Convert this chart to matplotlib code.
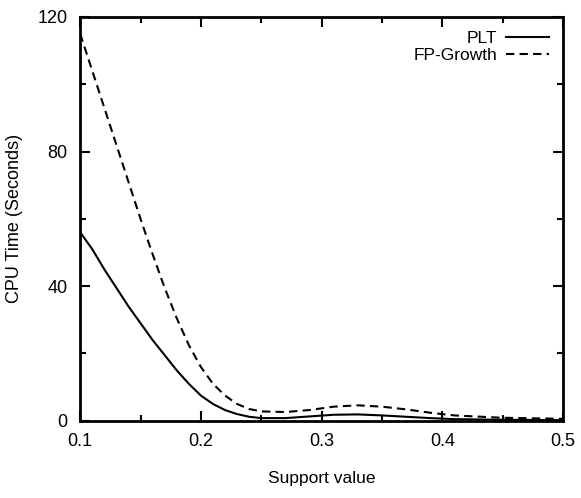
import matplotlib
matplotlib.use("Agg")
import matplotlib.pyplot as plt
from matplotlib.ticker import MultipleLocator

plt.rcParams['font.family'] = ['Liberation Sans', 'DejaVu Sans']

support = [0.10, 0.11, 0.12, 0.13, 0.14, 0.15, 0.16, 0.17, 0.18, 0.19, 0.20,
           0.21, 0.22, 0.23, 0.24, 0.25, 0.27, 0.29, 0.31, 0.33, 0.35,
           0.37, 0.39, 0.41, 0.45, 0.50]
plt_time = [56, 51, 45, 39.5, 34, 29, 24, 19.5, 15, 11, 7.5,
            5, 3.2, 2, 1.2, 0.8, 0.8, 1.3, 1.8, 1.9, 1.6,
            1.2, 0.8, 0.5, 0.3, 0.2]
fp_time = [115, 104, 93, 82, 71, 60, 49.5, 39.5, 30.5, 22.5, 16,
           11, 7.5, 5, 3.5, 2.8, 2.6, 3.2, 4.2, 4.6, 4.2,
           3.4, 2.4, 1.6, 0.9, 0.6]

fig = plt.figure(figsize=(5.81, 4.98), dpi=100)
ax = fig.add_axes([0.138, 0.155, 0.831, 0.811])

ax.plot(support, plt_time, color='black', lw=1.5, label='PLT')
ax.plot(support, fp_time, color='black', lw=1.5, ls=(0, (4, 2.5)), label='FP-Growth')

ax.set_xlim(0.1, 0.5)
ax.set_ylim(0, 120)
ax.xaxis.set_major_locator(MultipleLocator(0.1))
ax.xaxis.set_minor_locator(MultipleLocator(0.05))
ax.yaxis.set_major_locator(MultipleLocator(40))
ax.yaxis.set_minor_locator(MultipleLocator(20))
ax.set_xticklabels([f'{v:g}' for v in ax.get_xticks()])

ax.tick_params(which='both', direction='in', top=True, right=True,
               labelsize=13, width=1.5, pad=9)
ax.tick_params(which='major', length=7)
ax.tick_params(which='minor', length=4)
for s in ax.spines.values():
    s.set_linewidth(2)

ax.set_xlabel('Support value', fontsize=12.5, labelpad=15)
ax.set_ylabel('CPU Time (Seconds)', fontsize=13, va='center')
ax.yaxis.set_label_coords(-0.135, 0.5)

ax.legend(loc='upper right', frameon=False, markerfirst=False, fontsize=12.5,
          handlelength=2.5, handletextpad=0.5, labelspacing=0.1,
          borderaxespad=0.4)

fig.savefig('out.png', dpi=100)
